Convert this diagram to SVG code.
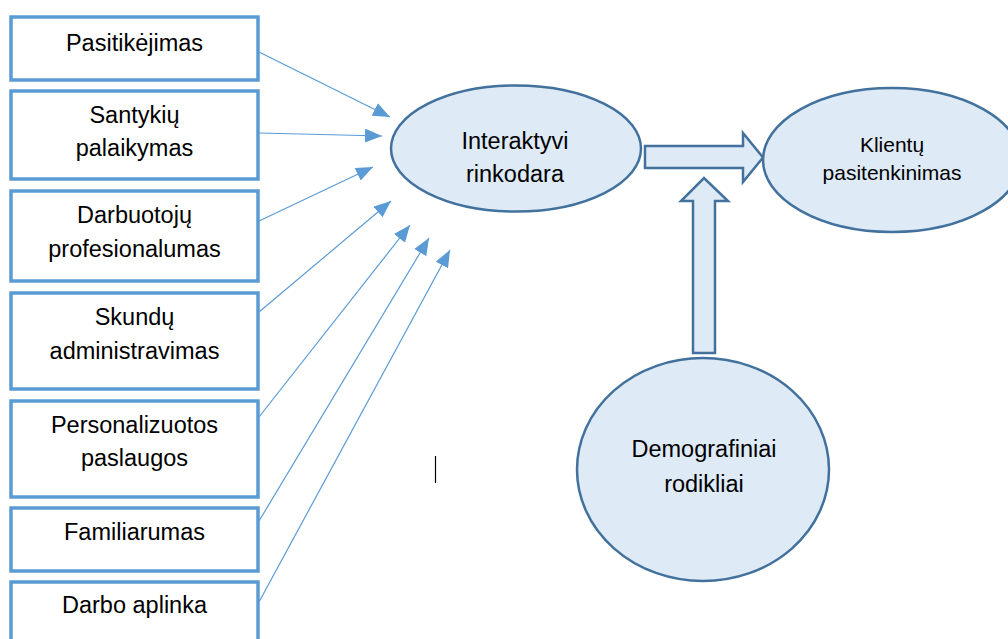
<svg xmlns="http://www.w3.org/2000/svg" width="1008" height="639" viewBox="0 0 1008 639">
<style>
.box{fill:#fff;stroke:#5B9BD5;stroke-width:3.5}
.ell{fill:#DEEAF6;stroke:#41719C;stroke-width:2.5}
.blk{fill:#DEEAF6;stroke:#41719C;stroke-width:2.5;stroke-linejoin:miter}
.t{font-family:"Liberation Sans",Arial,sans-serif;font-size:23.5px;fill:#000;text-anchor:middle}
.te{font-family:"Liberation Sans",Arial,sans-serif;font-size:23.5px;fill:#000;text-anchor:middle}
.c{stroke:#5B9BD5;stroke-width:1.2;fill:none;marker-end:url(#ah)}
</style>
<defs>
<marker id="ah" markerUnits="userSpaceOnUse" markerWidth="17" markerHeight="14" refX="17" refY="7" orient="auto">
<path d="M0,0 L17,7 L0,14 z" fill="#5B9BD5"/>
</marker>
</defs>
<rect width="1008" height="639" fill="#fff"/>
<g id="connectors">
<line class="c" x1="259" y1="52" x2="390" y2="117"/>
<line class="c" x1="259" y1="133" x2="382" y2="136"/>
<line class="c" x1="259" y1="221" x2="373" y2="167"/>
<line class="c" x1="259" y1="312" x2="391" y2="201"/>
<line class="c" x1="259" y1="417" x2="410" y2="225"/>
<line class="c" x1="259" y1="521" x2="429" y2="238"/>
<line class="c" x1="259" y1="602" x2="450" y2="250"/>
<path class="blk" d="M645,146 L743,146 L743,133 L763,157.5 L743,182 L743,168 L645,168 Z"/>
<path class="blk" d="M693,353 L693,201 L681,201 L704,178 L728,201 L715,201 L715,353 Z"/>
</g>
<g id="n1"><rect class="box" x="11" y="17" width="247" height="63"/><text class="t" x="134.5" y="51">Pasitikėjimas</text></g>
<g id="n2"><rect class="box" x="11" y="91" width="247" height="88"/><text class="t" x="134.5" y="123">Santykių</text><text class="t" x="134.5" y="156">palaikymas</text></g>
<g id="n3"><rect class="box" x="11" y="191" width="247" height="90"/><text class="t" x="134.5" y="223">Darbuotojų</text><text class="t" x="134.5" y="257">profesionalumas</text></g>
<g id="n4"><rect class="box" x="11" y="293" width="247" height="96"/><text class="t" x="134.5" y="325">Skundų</text><text class="t" x="134.5" y="359">administravimas</text></g>
<g id="n5"><rect class="box" x="11" y="401" width="247" height="96"/><text class="t" x="134.5" y="433">Personalizuotos</text><text class="t" x="134.5" y="466">paslaugos</text></g>
<g id="n6"><rect class="box" x="11" y="508" width="247" height="63"/><text class="t" x="134.5" y="540">Familiarumas</text></g>
<g id="n7"><rect class="box" x="11" y="582" width="247" height="70"/><text class="t" x="134.5" y="613">Darbo aplinka</text></g>
<g id="e1"><ellipse class="ell" cx="516" cy="148.5" rx="125" ry="63"/><text class="te" x="515" y="149">Interaktyvi</text><text class="te" x="515" y="182">rinkodara</text></g>
<g id="e2"><ellipse class="ell" cx="892" cy="160" rx="129" ry="72"/><text class="te" x="892" y="152" style="font-size:21px">Klientų</text><text class="te" x="892" y="180" style="font-size:21px">pasitenkinimas</text></g>
<g id="e3"><ellipse class="ell" cx="703" cy="469.5" rx="126" ry="111.5"/><text class="te" x="704" y="457">Demografiniai</text><text class="te" x="704" y="492">rodikliai</text></g>
<line x1="435.5" y1="456" x2="435.5" y2="483" stroke="#000" stroke-width="1.2"/>
</svg>
